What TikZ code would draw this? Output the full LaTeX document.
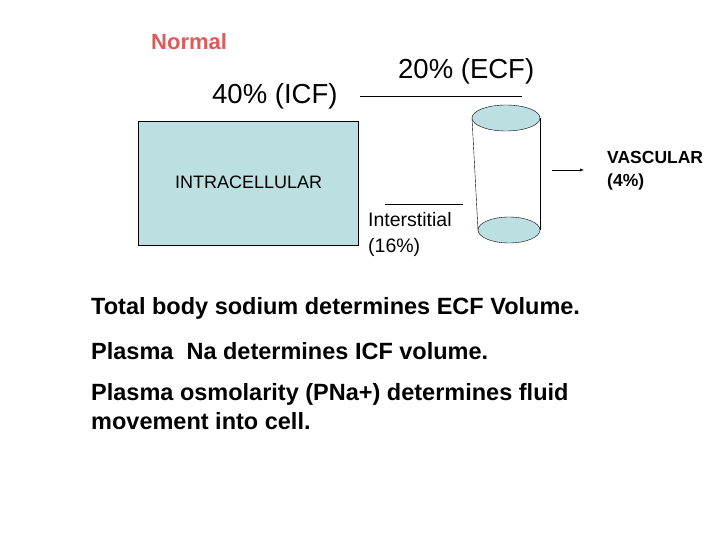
\documentclass[tikz,border=0pt]{standalone}
\usepackage{fontspec}
\setmainfont{Liberation Sans}
\begin{document}
\begin{tikzpicture}[x=1pt,y=-1pt,
  lbl/.style={inner sep=0pt,anchor=base west}]
\definecolor{lb}{HTML}{BCDFE2}
\definecolor{nr}{HTML}{E05A5A}
\useasboundingbox (0,0) rectangle (720,540);
\node[lbl,text=nr,font=\bfseries\fontsize{22}{26}\selectfont] (n) at (151,50) {Normal};
\node[lbl,font=\fontsize{27.5}{32}\selectfont] (icf) at (212,104) {40\% (ICF)};
\node[lbl,font=\fontsize{27.5}{32}\selectfont] (ecf) at (398,79) {20\% (ECF)};
\coordinate (l1a) at (360,96); \coordinate (l1b) at (522,96);
\draw (l1a) -- (l1b);
\node[draw=black,fill=lb,minimum width=220pt,minimum height=124pt,anchor=north west,inner sep=0pt] (rect) at (138,121) {};
\node[lbl,font=\fontsize{18}{21}\selectfont] (ic) at (175,189) {INTRACELLULAR};
% cylinder
\coordinate (tl) at (472,118); \coordinate (bl) at (478,230);
\coordinate (tr) at (540,118); \coordinate (br) at (540,230);
\draw (tl) -- (bl); \draw (tr) -- (br);
\draw[fill=lb] (506,118) ellipse [x radius=34,y radius=13];
\draw[fill=lb] (509,230) ellipse [x radius=31,y radius=13];
\coordinate (a1) at (552,170); \coordinate (a2) at (584,170);
\draw[-latex] (a1) -- (a2);
\node[lbl,font=\bfseries\fontsize{17.5}{21}\selectfont] (v1) at (607,164) {VASCULAR};
\node[lbl,font=\bfseries\fontsize{17.5}{21}\selectfont] (v2) at (607,187) {(4\%)};
\coordinate (l2a) at (385,204); \coordinate (l2b) at (463,204);
\draw (l2a) -- (l2b);
\node[lbl,font=\fontsize{19.5}{23}\selectfont] (i1) at (368,226) {Interstitial};
\node[lbl,font=\fontsize{19.5}{23}\selectfont] (i2) at (368,252) {(16\%)};
\node[lbl,font=\bfseries\fontsize{23.5}{28}\selectfont] (t1) at (91,314) {Total body sodium determines ECF Volume.};
\node[lbl,font=\bfseries\fontsize{23.5}{28}\selectfont] (t2) at (91,359) {Plasma\ \ Na determines ICF volume.};
\node[lbl,font=\bfseries\fontsize{23.5}{28}\selectfont] (t3) at (91,400) {Plasma osmolarity (PNa+) determines fluid};
\node[lbl,font=\bfseries\fontsize{23.5}{28}\selectfont] (t4) at (91,429) {movement into cell.};
\end{tikzpicture}
\end{document}
